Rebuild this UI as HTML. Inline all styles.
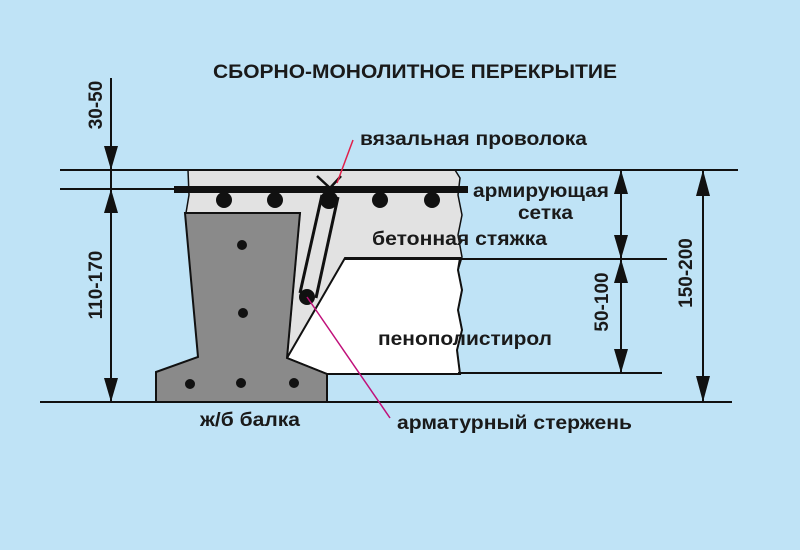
<!DOCTYPE html>
<html><head><meta charset="utf-8"><style>
html,body{margin:0;padding:0;background:#bfe3f6}
svg{display:block}
text{font-family:"Liberation Sans",sans-serif;font-weight:bold;fill:#1a1a1a}
</style></head><body>
<svg width="800" height="550" viewBox="0 0 800 550">
<rect width="800" height="550" fill="#bfe3f6"/>
<text x="213" y="78" font-size="19" textLength="404" lengthAdjust="spacingAndGlyphs">СБОРНО-МОНОЛИТНОЕ ПЕРЕКРЫТИЕ</text>
<!-- screed -->
<path d="M188,170 L455,170 L460,178 L458,195 L462,215 L458,235 L462,257 L458,270 L462,290 L458,310 L462,330 L457,350 L460,374 L327,374 L287,358 L300,213 L186,213 L189,195 Z" fill="#e2e2e2" stroke="#111" stroke-width="1.5"/>
<!-- foam -->
<path d="M345,258 L460,258 L458,270 L462,290 L458,310 L462,330 L457,350 L460,374 L327,374 L287,358 Z" fill="#fff" stroke="#111" stroke-width="2"/>
<!-- beam -->
<path d="M185,213 L300,213 L287,358 L327,374 L327,402 L156,402 L156,372 L198,357 Z" fill="#8a8a8a" stroke="#111" stroke-width="2"/>
<g fill="#111">
<circle cx="242" cy="245" r="5"/><circle cx="243" cy="313" r="5"/>
<circle cx="190" cy="384" r="5"/><circle cx="241" cy="383" r="5"/><circle cx="294" cy="383" r="5"/>
<circle cx="224" cy="200" r="8"/><circle cx="275" cy="200" r="8"/><circle cx="329" cy="200" r="9"/><circle cx="380" cy="200" r="8"/><circle cx="432" cy="200" r="8"/>
<circle cx="307" cy="297" r="8"/>
</g>
<!-- stirrup -->
<path d="M322,195 L300,293 M338,197 L316,298" stroke="#111" stroke-width="3" fill="none"/>
<path d="M317,176 L330,188 L341,176" stroke="#111" stroke-width="2.5" fill="none"/>
<!-- bar -->
<rect x="174" y="186" width="294" height="7" fill="#111"/>
<!-- lines -->
<g stroke="#111" stroke-width="2" fill="none">
<line x1="60" y1="170" x2="738" y2="170"/>
<line x1="60" y1="189" x2="175" y2="189"/>
<line x1="345" y1="259" x2="667" y2="259"/>
<line x1="458" y1="373" x2="662" y2="373"/>
<line x1="40" y1="402" x2="732" y2="402"/>
<line x1="111" y1="78" x2="111" y2="402"/>
<line x1="621" y1="170" x2="621" y2="373"/>
<line x1="703" y1="170" x2="703" y2="402"/>
</g>
<g fill="#111">
<path d="M104,146 L118,146 L111,170 Z"/>
<path d="M104,213 L118,213 L111,189 Z"/>
<path d="M104,378 L118,378 L111,402 Z"/>
<path d="M614,194 L628,194 L621,170 Z"/>
<path d="M614,235 L628,235 L621,259 Z"/>
<path d="M614,283 L628,283 L621,259 Z"/>
<path d="M614,349 L628,349 L621,373 Z"/>
<path d="M696,196 L710,196 L703,170 Z"/>
<path d="M696,376 L710,376 L703,402 Z"/>
</g>
<!-- leaders -->
<line x1="353" y1="140" x2="337" y2="183" stroke="#e0204a" stroke-width="1.5"/>
<line x1="307" y1="297" x2="390" y2="418" stroke="#c0107a" stroke-width="1.5"/>
<text x="360" y="145" font-size="19" textLength="227" lengthAdjust="spacingAndGlyphs">вязальная проволока</text>
<text x="473" y="197" font-size="19" textLength="136" lengthAdjust="spacingAndGlyphs">армирующая</text>
<text x="518" y="219" font-size="19" textLength="55" lengthAdjust="spacingAndGlyphs">сетка</text>
<text x="372" y="245" font-size="19" textLength="175" lengthAdjust="spacingAndGlyphs">бетонная стяжка</text>
<text x="378" y="345" font-size="19" textLength="174" lengthAdjust="spacingAndGlyphs">пенополистирол</text>
<text x="200" y="426" font-size="19" textLength="100" lengthAdjust="spacingAndGlyphs">ж/б балка</text>
<text x="397" y="429" font-size="19" textLength="235" lengthAdjust="spacingAndGlyphs">арматурный стержень</text>
<text transform="translate(102,105) rotate(-90)" font-size="19" text-anchor="middle">30-50</text>
<text transform="translate(102,285) rotate(-90)" font-size="19" text-anchor="middle">110-170</text>
<text transform="translate(608,302) rotate(-90)" font-size="19" text-anchor="middle">50-100</text>
<text transform="translate(692,273) rotate(-90)" font-size="19" text-anchor="middle">150-200</text>
</svg>
</body></html>
